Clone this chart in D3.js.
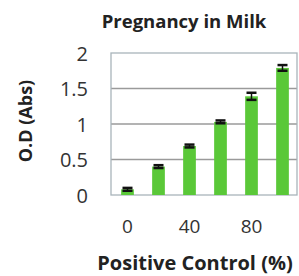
<!DOCTYPE html>
<html><head><meta charset="utf-8">
<script src="https://cdn.jsdelivr.net/npm/d3@7"></script>
<style>body{margin:0;background:#fff}svg{display:block}</style>
</head><body>
<script>
const categories = [0, 20, 40, 60, 80, 100];
const values = [0.08, 0.40, 0.69, 1.03, 1.39, 1.79];
const errors = [0.02, 0.02, 0.02, 0.02, 0.05, 0.04];
const xTickLabels = [0, 40, 80];
const yTicks = [0, 0.5, 1, 1.5, 2];

const W = 299, H = 276;
const plot = {left: 111, right: 297, top: 53, bottom: 195};
const font = "'Open Sans', sans-serif";

const svg = d3.select("body").append("svg").attr("width", W).attr("height", H);

const x = d3.scaleBand().domain(categories).range([112, 298]).paddingInner(0.59).paddingOuter(0.295);
const y = d3.scaleLinear().domain([0, 2]).range([plot.bottom, plot.top]);

// gridlines
svg.append("g").selectAll("line").data(yTicks.filter(d => d > 0 && d < 2)).join("line")
  .attr("x1", plot.left).attr("x2", plot.right)
  .attr("y1", d => y(d)).attr("y2", d => y(d))
  .attr("stroke", "#9a9a9a").attr("stroke-width", 1.3);

// plot border
svg.append("rect").attr("x", plot.left).attr("y", plot.top)
  .attr("width", plot.right - plot.left).attr("height", plot.bottom - plot.top)
  .attr("fill", "none").attr("stroke", "#a9b4bb").attr("stroke-width", 1.3);

// bars
svg.append("g").selectAll("rect").data(categories).join("rect")
  .attr("x", (d) => x(d)).attr("width", x.bandwidth())
  .attr("y", (d, i) => y(values[i])).attr("height", (d, i) => y(0) - y(values[i]))
  .attr("fill", "#5ac838");

// error bars
const eg = svg.append("g").attr("stroke", "#111");
categories.forEach((c, i) => {
  const cx = x(c) + x.bandwidth() / 2;
  const hi = y(values[i] + errors[i]), lo = y(values[i] - errors[i]);
  eg.append("line").attr("x1", cx).attr("x2", cx).attr("y1", hi).attr("y2", lo).attr("stroke-width", 1.5);
  [hi, lo].forEach(yy => eg.append("line").attr("x1", cx - 5).attr("x2", cx + 5)
    .attr("y1", yy).attr("y2", yy).attr("stroke-width", 2.5));
});

// y axis labels
const yAxis = d3.axisLeft(y).tickValues(yTicks).tickSize(0).tickPadding(0).tickFormat(d3.format("~g"));
const ya = svg.append("g").attr("transform", `translate(88,0)`).call(yAxis);
ya.select(".domain").remove();
ya.selectAll("text").attr("font-family", font).attr("font-size", 20).attr("fill", "#333").attr("dy", "0.36em");

// x axis labels
const xAxis = d3.axisBottom(x).tickValues(xTickLabels).tickSize(0).tickPadding(0);
const xa = svg.append("g").attr("transform", `translate(0,219)`).call(xAxis);
xa.select(".domain").remove();
xa.selectAll("text").attr("font-family", font).attr("font-size", 19).attr("fill", "#333");

// titles
svg.append("text").attr("x", 184).attr("y", 28).attr("text-anchor", "middle")
  .attr("font-family", font).attr("font-weight", "bold").attr("font-size", 18.5).attr("fill", "#222")
  .text("Pregnancy in Milk");
svg.append("text").attr("transform", "translate(32,121) rotate(-90)").attr("text-anchor", "middle")
  .attr("font-family", font).attr("font-weight", "bold").attr("font-size", 18).attr("fill", "#222")
  .text("O.D (Abs)");
svg.append("text").attr("x", 195).attr("y", 270).attr("text-anchor", "middle")
  .attr("font-family", font).attr("font-weight", "bold").attr("font-size", 20).attr("fill", "#222")
  .text("Positive Control (%)");
</script>
</body></html>
